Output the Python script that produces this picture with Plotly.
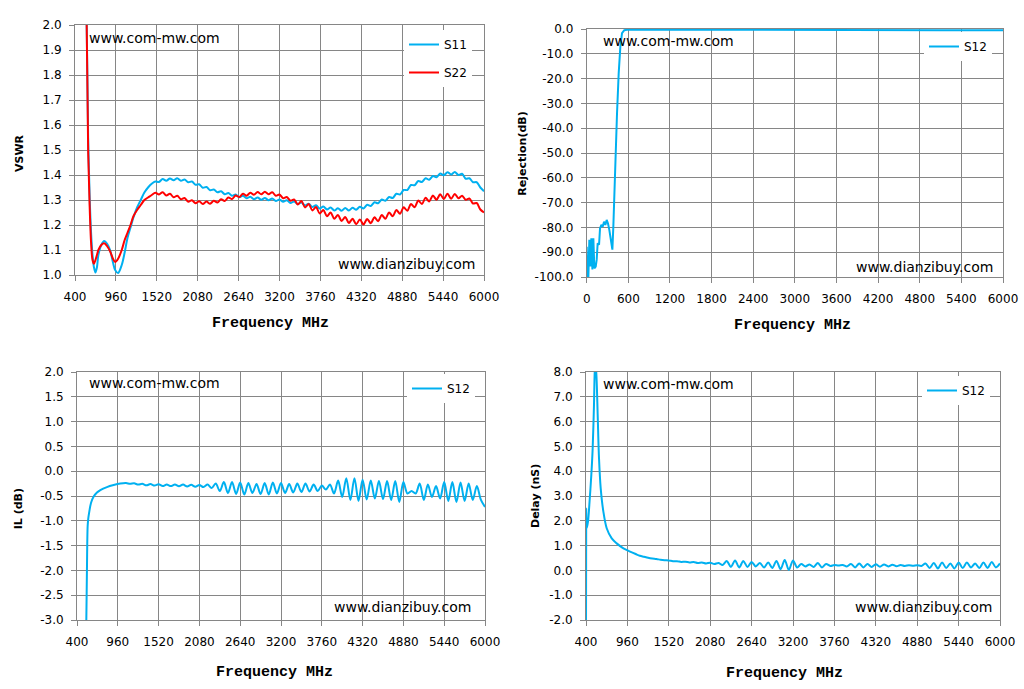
import plotly.graph_objects as go

W, H = 1024, 689
BLUE = "#00B0F0"
RED = "#FF0000"
GRID = "#868686"

# ---------------- DATA ----------------
# Tick values / labels
FREQ_TICKS = [400, 960, 1520, 2080, 2640, 3200, 3760, 4320, 4880, 5440, 6000]
FREQ_TICK_TEXT = ["400", "960", "1520", "2080", "2640", "3200", "3760", "4320", "4880", "5440", "6000"]
REJ_X_TICKS = [0, 600, 1200, 1800, 2400, 3000, 3600, 4200, 4800, 5400, 6000]
REJ_X_TICK_TEXT = ["0", "600", "1200", "1800", "2400", "3000", "3600", "4200", "4800", "5400", "6000"]
VSWR_Y_TICKS = [1.0, 1.1, 1.2, 1.3, 1.4, 1.5, 1.6, 1.7, 1.8, 1.9, 2.0]
VSWR_Y_TEXT = ["1.0", "1.1", "1.2", "1.3", "1.4", "1.5", "1.6", "1.7", "1.8", "1.9", "2.0"]
REJ_Y_TICKS = [-100, -90, -80, -70, -60, -50, -40, -30, -20, -10, 0]
REJ_Y_TEXT = ["-100.0", "-90.0", "-80.0", "-70.0", "-60.0", "-50.0", "-40.0", "-30.0", "-20.0", "-10.0", "0.0"]
IL_Y_TICKS = [-3.0, -2.5, -2.0, -1.5, -1.0, -0.5, 0.0, 0.5, 1.0, 1.5, 2.0]
IL_Y_TEXT = ["-3.0", "-2.5", "-2.0", "-1.5", "-1.0", "-0.5", "0.0", "0.5", "1.0", "1.5", "2.0"]
DELAY_Y_TICKS = [-2, -1, 0, 1, 2, 3, 4, 5, 6, 7, 8]
DELAY_Y_TEXT = ["-2.0", "-1.0", "0.0", "1.0", "2.0", "3.0", "4.0", "5.0", "6.0", "7.0", "8.0"]

# VSWR (S11 / S22)
VSWR_FREQ_LOW = [520, 560, 580, 600, 620, 640, 660, 680, 700, 720, 760, 800, 840, 880,
                 920, 950, 990, 1040, 1080, 1120, 1160, 1200, 1250, 1300, 1350, 1400, 1450]
VSWR_FREQ_TAIL = [1500, 1550, 1600, 1650, 1700, 1750, 1800, 1850, 1900, 1950,
                  2000, 2050, 2100, 2150, 2200, 2250, 2300, 2350, 2400, 2450,
                  2500, 2550, 2600, 2650, 2700, 2750, 2800, 2850, 2900, 2950,
                  3000, 3050, 3100, 3150, 3200, 3250, 3300, 3350, 3400, 3450,
                  3500, 3550, 3600, 3650, 3700, 3750, 3800, 3850, 3900, 3950,
                  4000, 4050, 4100, 4150, 4200, 4250, 4300, 4350, 4400, 4450,
                  4500, 4550, 4600, 4650, 4700, 4750, 4800, 4850, 4900, 4950,
                  5000, 5050, 5100, 5150, 5200, 5250, 5300, 5350, 5400, 5450,
                  5500, 5550, 5600, 5650, 5700, 5750, 5800, 5850, 5900, 5950,
                  6000]
S11_LOW = [2.6, 2.0, 1.55, 1.32, 1.17, 1.08, 1.03, 1.01, 1.03, 1.08, 1.12, 1.136, 1.125, 1.10,
           1.05, 1.02, 1.008, 1.04, 1.09, 1.15, 1.19, 1.23, 1.27, 1.30, 1.33, 1.35, 1.365]
S11_TAIL = [1.374, 1.372, 1.384, 1.377, 1.386, 1.379, 1.387, 1.377, 1.382, 1.371,
            1.374, 1.361, 1.363, 1.349, 1.352, 1.339, 1.342, 1.331, 1.335, 1.323,
            1.328, 1.317, 1.322, 1.311, 1.317, 1.307, 1.313, 1.303, 1.310, 1.301,
            1.308, 1.299, 1.306, 1.296, 1.302, 1.293, 1.299, 1.288, 1.294, 1.284,
            1.290, 1.278, 1.285, 1.272, 1.279, 1.266, 1.274, 1.262, 1.270, 1.258,
            1.267, 1.257, 1.268, 1.258, 1.269, 1.261, 1.273, 1.266, 1.281, 1.276,
            1.291, 1.287, 1.302, 1.297, 1.312, 1.308, 1.325, 1.322, 1.340, 1.340,
            1.360, 1.359, 1.376, 1.372, 1.387, 1.381, 1.396, 1.391, 1.406, 1.399,
            1.411, 1.402, 1.412, 1.400, 1.405, 1.385, 1.387, 1.371, 1.371, 1.350,
            1.335]
S22_LOW = [2.6, 2.0, 1.50, 1.28, 1.13, 1.06, 1.045, 1.06, 1.08, 1.10, 1.12, 1.127, 1.115, 1.095,
           1.065, 1.052, 1.065, 1.10, 1.14, 1.17, 1.20, 1.235, 1.26, 1.28, 1.30, 1.31, 1.32]
S22_TAIL = [1.329, 1.322, 1.331, 1.318, 1.325, 1.311, 1.317, 1.303, 1.308, 1.293,
            1.299, 1.287, 1.295, 1.284, 1.294, 1.285, 1.297, 1.290, 1.303, 1.296,
            1.310, 1.304, 1.318, 1.312, 1.325, 1.317, 1.329, 1.321, 1.332, 1.323,
            1.333, 1.323, 1.331, 1.317, 1.322, 1.307, 1.312, 1.297, 1.302, 1.282,
            1.296, 1.270, 1.284, 1.258, 1.272, 1.246, 1.260, 1.235, 1.250, 1.225,
            1.240, 1.216, 1.232, 1.208, 1.225, 1.203, 1.222, 1.202, 1.224, 1.207,
            1.231, 1.215, 1.240, 1.225, 1.250, 1.235, 1.260, 1.245, 1.271, 1.257,
            1.284, 1.271, 1.298, 1.284, 1.309, 1.294, 1.318, 1.301, 1.323, 1.304,
            1.325, 1.305, 1.324, 1.307, 1.317, 1.301, 1.306, 1.286, 1.288, 1.262,
            1.250]

# Rejection (S12, 0-6000 MHz)
REJ_FREQ = [0, 10, 24, 38, 53, 67, 82, 96, 110, 130,
            144, 158, 178, 192, 211, 230, 250, 269, 288, 307,
            326, 346, 370, 384, 398, 418, 437, 461, 485, 509,
            542, 600, 900, 1200, 1500, 1800, 2100, 2400, 2700, 3000,
            3300, 3600, 3900, 4200, 4500, 4800, 5100, 5400, 5700, 6000]
REJ_DB = [-87.8, -99.9, -100, -85, -95.8, -84.4, -97, -84.4, -96.5, -95.8,
          -93, -86.4, -87, -80.4, -79, -79.7, -77.7, -79, -77, -78.4,
          -81, -85, -89, -79.7, -66.3, -50, -34, -17.9, -7.1, -1.7,
          -0.5, -0.25, -0.2, -0.2, -0.25, -0.25, -0.3, -0.3, -0.35, -0.3,
          -0.4, -0.35, -0.45, -0.4, -0.5, -0.45, -0.55, -0.5, -0.6, -0.55]

# Shared upper frequency grid for IL / Delay
FREQ_TAIL = [1072, 1128, 1184, 1240, 1296, 1352, 1408, 1464, 1520, 1576,
             1632, 1688, 1744, 1800, 1856, 1912, 1968, 2024, 2080, 2136,
             2192, 2248, 2304, 2360, 2416, 2472, 2528, 2584, 2640, 2696,
             2752, 2808, 2864, 2920, 2976, 3032, 3088, 3144, 3200, 3256,
             3312, 3368, 3424, 3480, 3536, 3592, 3648, 3704, 3760, 3816,
             3872, 3928, 3984, 4040, 4096, 4152, 4208, 4264, 4320, 4376,
             4432, 4488, 4544, 4600, 4656, 4712, 4768, 4824, 4880, 4936,
             4992, 5048, 5104, 5160, 5216, 5272, 5328, 5384, 5440, 5496,
             5552, 5608, 5664, 5720, 5776, 5832, 5888, 5944, 6000]

# Insertion loss (S12)
IL_FREQ_LOW = [520, 528, 537, 546, 555, 565, 592, 629, 674, 720, 811, 903, 994]
IL_LOW = [-3.6, -3.0, -1.92, -1.11, -0.95, -0.85, -0.64, -0.51, -0.43, -0.38, -0.32, -0.28, -0.25]
IL_TAIL = [-0.240, -0.255, -0.245, -0.270, -0.255, -0.285, -0.260, -0.290, -0.265, -0.300,
           -0.270, -0.300, -0.270, -0.305, -0.270, -0.310, -0.275, -0.315, -0.280, -0.320,
           -0.270, -0.340, -0.250, -0.400, -0.220, -0.440, -0.220, -0.460, -0.230, -0.470,
           -0.240, -0.440, -0.260, -0.460, -0.240, -0.470, -0.230, -0.450, -0.240, -0.440,
           -0.260, -0.430, -0.250, -0.420, -0.250, -0.410, -0.270, -0.400, -0.290, -0.370,
           -0.270, -0.450, -0.190, -0.520, -0.140, -0.580, -0.140, -0.600, -0.170, -0.570,
           -0.190, -0.550, -0.200, -0.560, -0.200, -0.580, -0.200, -0.620, -0.220, -0.450,
           -0.400, -0.450, -0.250, -0.580, -0.270, -0.520, -0.300, -0.550, -0.220, -0.600,
           -0.220, -0.620, -0.230, -0.600, -0.250, -0.580, -0.300, -0.580, -0.720]

# Group delay (S12)
DELAY_FREQ_LOW = [400, 403, 409, 427, 445, 472, 490, 508, 520, 530,
                  542, 558, 576, 599, 635, 680, 748, 815, 906, 996]
DELAY_LOW = [-2.5, 2.5, 1.7, 1.97, 2.64, 3.85, 4.9, 6.67, 8.1, 8.3,
             7.8, 6.27, 4.52, 3.31, 2.37, 1.70, 1.29, 1.09, 0.89, 0.76]
DELAY_TAIL = [0.66, 0.59, 0.55, 0.51, 0.48, 0.46, 0.43, 0.41, 0.40, 0.37,
              0.37, 0.34, 0.35, 0.32, 0.34, 0.30, 0.32, 0.28, 0.31, 0.26,
              0.30, 0.22, 0.38, 0.14, 0.40, 0.12, 0.38, 0.14, 0.34, 0.16,
              0.30, 0.12, 0.32, 0.10, 0.38, 0.05, 0.42, 0.02, 0.40, 0.12,
              0.26, 0.16, 0.24, 0.14, 0.30, 0.12, 0.26, 0.18, 0.22, 0.20,
              0.22, 0.16, 0.26, 0.12, 0.28, 0.12, 0.26, 0.14, 0.25, 0.15,
              0.24, 0.16, 0.23, 0.17, 0.22, 0.18, 0.21, 0.19, 0.21, 0.18,
              0.28, 0.10, 0.30, 0.08, 0.32, 0.10, 0.28, 0.08, 0.32, 0.10,
              0.32, 0.12, 0.28, 0.10, 0.32, 0.10, 0.34, 0.12, 0.28]

# ---------------- FIGURE ----------------
def px(x):
    return x / W


def py(y):
    return 1 - y / H


TICKFONT = dict(family="DejaVu Sans", size=12, color="black")
SMOOTH = dict(width=2, shape="spline", smoothing=0.9)

fig = go.Figure()
fig.add_trace(go.Scatter(x=VSWR_FREQ_LOW + VSWR_FREQ_TAIL, y=S11_LOW + S11_TAIL, name="S11",
                         mode="lines", line=dict(color=BLUE, **SMOOTH),
                         xaxis="x", yaxis="y", legend="legend", legendgroup="s11"))
fig.add_trace(go.Scatter(x=VSWR_FREQ_LOW + VSWR_FREQ_TAIL, y=S22_LOW + S22_TAIL, name="S22",
                         mode="lines", line=dict(color=RED, **SMOOTH),
                         xaxis="x", yaxis="y", legend="legend", legendgroup="s22"))
fig.add_trace(go.Scatter(x=REJ_FREQ, y=REJ_DB, name="S12", mode="lines",
                         line=dict(color=BLUE, width=2),
                         xaxis="x2", yaxis="y2", legend="legend2"))
fig.add_trace(go.Scatter(x=IL_FREQ_LOW + FREQ_TAIL, y=IL_LOW + IL_TAIL, name="S12", mode="lines",
                         line=dict(color=BLUE, **SMOOTH),
                         xaxis="x3", yaxis="y3", legend="legend3"))
fig.add_trace(go.Scatter(x=DELAY_FREQ_LOW + FREQ_TAIL, y=DELAY_LOW + DELAY_TAIL, name="S12", mode="lines",
                         line=dict(color=BLUE, **SMOOTH),
                         xaxis="x4", yaxis="y4", legend="legend4"))

common = dict(showgrid=True, gridcolor=GRID, gridwidth=1, showline=True, linecolor=GRID,
              linewidth=1, mirror=True, ticks="outside", ticklen=5, tickcolor=GRID,
              tickfont=TICKFONT, zeroline=False, fixedrange=True, automargin=False)

panels = {
    # name: (left, right, top, bottom) in pixels
    "tl": (75, 484, 25, 275),
    "tr": (586.7, 1003, 29, 277),
    "bl": (77, 485, 372, 620),
    "br": (586, 1000, 372, 620),
}


def xdom(p):
    return [px(panels[p][0]), px(panels[p][1])]


def ydom(p):
    return [py(panels[p][3]), py(panels[p][2])]


XSTAND = 6
YSTAND = 5
fig.update_layout(
    width=W, height=H,
    margin=dict(l=0, r=0, t=0, b=0),
    paper_bgcolor="white", plot_bgcolor="white",
    font=dict(family="DejaVu Sans", color="black"),
    xaxis=dict(common, domain=xdom("tl"), anchor="y", range=[400, 6000],
               tickvals=FREQ_TICKS, ticktext=FREQ_TICK_TEXT, ticklabelstandoff=XSTAND),
    yaxis=dict(common, domain=ydom("tl"), anchor="x", range=[1.0, 2.0],
               tickvals=VSWR_Y_TICKS, ticktext=VSWR_Y_TEXT, ticklabelstandoff=YSTAND),
    xaxis2=dict(common, domain=xdom("tr"), anchor="y2", range=[0, 6000],
                tickvals=REJ_X_TICKS, ticktext=REJ_X_TICK_TEXT, ticklabelstandoff=XSTAND),
    yaxis2=dict(common, domain=ydom("tr"), anchor="x2", range=[-100, 0],
                tickvals=REJ_Y_TICKS, ticktext=REJ_Y_TEXT, ticklabelstandoff=YSTAND),
    xaxis3=dict(common, domain=xdom("bl"), anchor="y3", range=[400, 6000],
                tickvals=FREQ_TICKS, ticktext=FREQ_TICK_TEXT, ticklabelstandoff=XSTAND),
    yaxis3=dict(common, domain=ydom("bl"), anchor="x3", range=[-3.0, 2.0],
                tickvals=IL_Y_TICKS, ticktext=IL_Y_TEXT, ticklabelstandoff=YSTAND),
    xaxis4=dict(common, domain=xdom("br"), anchor="y4", range=[400, 6000],
                tickvals=FREQ_TICKS, ticktext=FREQ_TICK_TEXT, ticklabelstandoff=XSTAND),
    yaxis4=dict(common, domain=ydom("br"), anchor="x4", range=[-2, 8],
                tickvals=DELAY_Y_TICKS, ticktext=DELAY_Y_TEXT, ticklabelstandoff=YSTAND),
)

LEGFONT = dict(family="DejaVu Sans", size=12, color="black")


def legend_at(lx, ty, gap=0):
    return dict(x=px(lx), y=py(ty), xanchor="left", yanchor="top", bgcolor="white",
                borderwidth=0, font=LEGFONT, itemwidth=30, tracegroupgap=gap,
                orientation="v", itemclick=False, itemdoubleclick=False)


fig.update_layout(
    legend=legend_at(404, 30, gap=9),
    legend2=legend_at(924, 32),
    legend3=legend_at(407, 374),
    legend4=legend_at(922, 376),
)

annotations = []
WM = dict(family="DejaVu Sans", size=14, color="black")
marks = [
    ("www.com-mw.com", 87, 38),
    ("www.dianzibuy.com", 335.5, 264),
    ("www.com-mw.com", 600.5, 41),
    ("www.dianzibuy.com", 854, 267),
    ("www.com-mw.com", 86.5, 383),
    ("www.dianzibuy.com", 332, 607),
    ("www.com-mw.com", 600.5, 384),
    ("www.dianzibuy.com", 852.5, 607),
]
for txt, x, y in marks:
    annotations.append(dict(text=txt, x=px(x), y=py(y), xref="paper", yref="paper",
                            xanchor="left", yanchor="middle", showarrow=False, font=WM))

XT = dict(family="Liberation Mono", size=15, color="black", weight="bold")
for x, y in [(270, 323), (792, 325), (274, 672), (784, 673)]:
    annotations.append(dict(text="Frequency MHz", x=px(x), y=py(y), xref="paper", yref="paper",
                            xanchor="center", yanchor="middle", showarrow=False, font=XT))

YT = dict(family="DejaVu Sans", size=11, color="black", weight="bold")
for txt, x, y in [("VSWR", 19, 153), ("Rejection(dB)", 521.7, 154),
                  ("IL (dB)", 18.3, 509), ("Delay (nS)", 535, 496)]:
    annotations.append(dict(text=txt, x=px(x), y=py(y), xref="paper", yref="paper",
                            xanchor="center", yanchor="middle", showarrow=False,
                            textangle=-90, font=YT))

fig.update_layout(annotations=annotations)

fig.write_html("out.html",
               config={"displayModeBar": False},
               post_script="document.body.style.margin='0';document.body.style.padding='0';"
                           "document.body.style.overflow='hidden';")
